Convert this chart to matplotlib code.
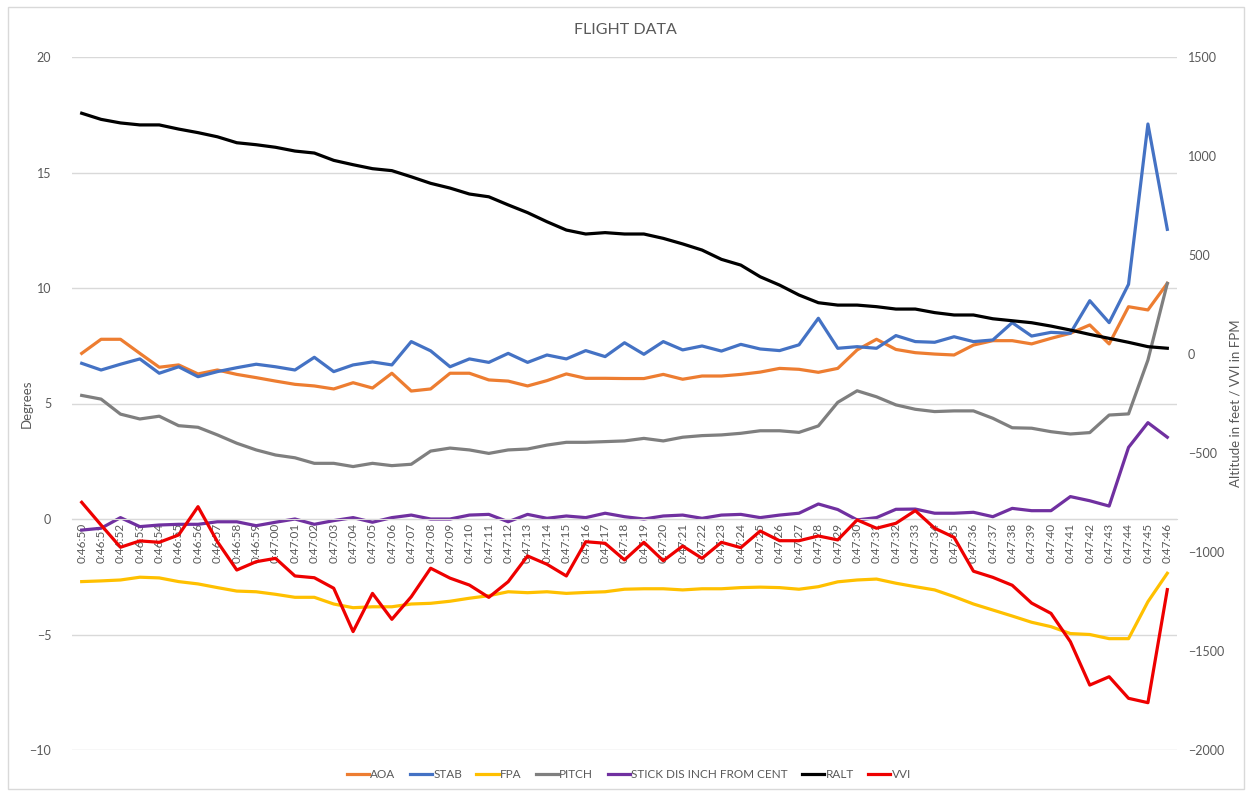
import matplotlib
matplotlib.use('Agg')
from matplotlib import pyplot as plt
from matplotlib.patches import Rectangle

plt.rcParams['font.family'] = ['Lato', 'DejaVu Sans']

times = ['0:46:50', '0:46:51', '0:46:52', '0:46:53', '0:46:54', '0:46:55', '0:46:56', '0:46:57',
         '0:46:58', '0:46:59', '0:47:00', '0:47:01', '0:47:02', '0:47:03', '0:47:04', '0:47:05',
         '0:47:06', '0:47:07', '0:47:08', '0:47:09', '0:47:10', '0:47:11', '0:47:12', '0:47:13',
         '0:47:14', '0:47:15', '0:47:16', '0:47:17', '0:47:18', '0:47:19', '0:47:20', '0:47:21',
         '0:47:22', '0:47:23', '0:47:24', '0:47:25', '0:47:26', '0:47:27', '0:47:28', '0:47:29',
         '0:47:30', '0:47:31', '0:47:32', '0:47:33', '0:47:34', '0:47:35', '0:47:36', '0:47:37',
         '0:47:38', '0:47:39', '0:47:40', '0:47:41', '0:47:42', '0:47:43', '0:47:44', '0:47:45',
         '0:47:46']

# degrees (left axis)
aoa = [7.17, 7.78, 7.78, 7.17, 6.57, 6.67, 6.28, 6.45, 6.26, 6.12,
       5.97, 5.83, 5.76, 5.63, 5.90, 5.67, 6.31, 5.54, 5.63, 6.31,
       6.31, 6.02, 5.97, 5.76, 5.99, 6.28, 6.09, 6.09, 6.08, 6.08,
       6.26, 6.05, 6.19, 6.19, 6.26, 6.36, 6.52, 6.48, 6.35, 6.52,
       7.32, 7.78, 7.34, 7.20, 7.14, 7.10, 7.53, 7.72, 7.72, 7.58,
       7.82, 8.04, 8.40, 7.58, 9.19, 9.05, 10.20]
stab = [6.74, 6.45, 6.70, 6.93, 6.31, 6.59, 6.16, 6.38, 6.55, 6.70,
        6.59, 6.45, 7.00, 6.38, 6.67, 6.80, 6.67, 7.68, 7.28, 6.59,
        6.93, 6.78, 7.17, 6.78, 7.10, 6.93, 7.29, 7.03, 7.63, 7.13,
        7.68, 7.32, 7.49, 7.27, 7.56, 7.36, 7.29, 7.54, 8.69, 7.39,
        7.46, 7.39, 7.94, 7.68, 7.65, 7.89, 7.68, 7.75, 8.50, 7.92,
        8.08, 8.04, 9.45, 8.50, 10.16, 17.10, 12.54]
fpa = [-2.71, -2.68, -2.64, -2.52, -2.55, -2.71, -2.81, -2.97, -3.12, -3.15,
       -3.26, -3.39, -3.39, -3.68, -3.84, -3.80, -3.80, -3.68, -3.65, -3.56,
       -3.43, -3.32, -3.15, -3.19, -3.15, -3.22, -3.18, -3.15, -3.04, -3.02,
       -3.02, -3.07, -3.02, -3.02, -2.97, -2.95, -2.97, -3.04, -2.93, -2.72,
       -2.64, -2.60, -2.78, -2.93, -3.07, -3.36, -3.68, -3.94, -4.20, -4.47,
       -4.66, -4.96, -5.00, -5.18, -5.18, -3.58, -2.35]
pitch = [5.35, 5.19, 4.54, 4.33, 4.45, 4.04, 3.97, 3.64, 3.28, 2.99,
         2.77, 2.65, 2.41, 2.41, 2.27, 2.41, 2.31, 2.37, 2.94, 3.07,
         2.99, 2.84, 2.99, 3.03, 3.20, 3.32, 3.32, 3.35, 3.38, 3.49,
         3.38, 3.54, 3.61, 3.64, 3.71, 3.82, 3.82, 3.75, 4.03, 5.05,
         5.55, 5.29, 4.94, 4.75, 4.65, 4.68, 4.68, 4.36, 3.95, 3.93,
         3.78, 3.68, 3.74, 4.50, 4.55, 6.88, 10.20]
stick = [-0.48, -0.40, 0.06, -0.33, -0.26, -0.23, -0.23, -0.12, -0.12, -0.29,
         -0.14, 0.00, -0.23, -0.07, 0.06, -0.14, 0.06, 0.17, 0.00, 0.00,
         0.17, 0.20, -0.12, 0.20, 0.03, 0.13, 0.06, 0.25, 0.10, 0.00,
         0.13, 0.17, 0.03, 0.17, 0.20, 0.06, 0.17, 0.25, 0.65, 0.41,
         -0.04, 0.06, 0.42, 0.43, 0.25, 0.25, 0.29, 0.10, 0.46, 0.36,
         0.36, 0.97, 0.79, 0.56, 3.10, 4.17, 3.54]

# feet / fpm (right axis)
ralt = [1216, 1185, 1167, 1157, 1157, 1136, 1118, 1097, 1067, 1057,
        1044, 1025, 1015, 978, 956, 936, 926, 895, 862, 838,
        808, 794, 753, 714, 668, 626, 606, 613, 606, 606,
        584, 556, 525, 478, 449, 390, 348, 298, 259, 247,
        247, 239, 227, 227, 209, 197, 197, 178, 168, 158,
        141, 121, 99, 79, 59, 37, 29]
vvi = [-749, -864, -976, -944, -951, -914, -771, -948, -1091, -1049,
       -1032, -1121, -1130, -1183, -1402, -1209, -1340, -1226, -1082, -1132,
       -1167, -1229, -1150, -1020, -1062, -1121, -948, -956, -1040, -951,
       -1044, -970, -1032, -951, -978, -894, -943, -943, -919, -939,
       -838, -880, -855, -791, -880, -926, -1097, -1128, -1168, -1258,
       -1310, -1453, -1672, -1630, -1739, -1761, -1190]

W, H = 1250, 793
fig = plt.figure(figsize=(W / 100, H / 100), dpi=100)
fig.patches.append(Rectangle((8 / W, 4 / H), 1236 / W, 782 / H, transform=fig.transFigure,
                             fill=False, edgecolor='#d9d9d9', linewidth=1))

ax = fig.add_axes([72 / W, 1 - 750 / H, 1105 / W, 693 / H])
ax2 = ax.twinx()

x = list(range(len(times)))
grey_txt = '#595959'
lw = 2.3

l1, = ax.plot(x, aoa, color='#ED7D31', lw=lw, label='AOA')
l2, = ax.plot(x, stab, color='#4472C4', lw=lw, label='STAB')
l3, = ax.plot(x, fpa, color='#FFC000', lw=lw, label='FPA')
l4, = ax.plot(x, pitch, color='#7F7F7F', lw=lw, label='PITCH')
l5, = ax.plot(x, stick, color='#7030A0', lw=lw, label='STICK DIS INCH FROM CENT')
l6, = ax2.plot(x, ralt, color='#000000', lw=lw, label='RALT')
l7, = ax2.plot(x, vvi, color='#EE0000', lw=lw, label='VVI')

ax.set_xlim(-0.5, len(times) - 0.5)
ax.set_ylim(-10, 20)
ax.set_yticks([-10, -5, 0, 5, 10, 15, 20])
ax2.set_ylim(-2000, 1500)
ax2.set_yticks([-2000, -1500, -1000, -500, 0, 500, 1000, 1500])

ax.yaxis.grid(True, color='#d9d9d9', linewidth=1)
ax.set_axisbelow(True)
for a in (ax, ax2):
    for s in ('top', 'left', 'right'):
        a.spines[s].set_visible(False)
ax2.spines['bottom'].set_visible(False)
ax.spines['bottom'].set_position(('data', 0))
ax.spines['bottom'].set_color('#d9d9d9')

ax.set_xticks(x)
ax.set_xticklabels(times, rotation=90, fontsize=8.5, color=grey_txt)
ax.tick_params(axis='x', length=0, pad=3)
ax.tick_params(axis='y', length=0, pad=15, labelsize=9, labelcolor=grey_txt)
ax2.tick_params(axis='y', length=0, pad=8, labelsize=9, labelcolor=grey_txt)

ax.set_ylabel('Degrees', fontsize=9.5, color=grey_txt)
ax.yaxis.set_label_coords((33 - 72) / 1105, 0.5)
ax2.set_ylabel('Altitude in feet / VVI in FPM', fontsize=9.5, color=grey_txt)
ax2.yaxis.set_label_coords((1230 - 72) / 1105, 0.5)

fig.text(0.5, 1 - 30 / H, 'FLIGHT DATA', ha='center', va='center', fontsize=11.5, color=grey_txt)

fig.legend(handles=[l1, l2, l3, l4, l5, l6, l7], loc='center', bbox_to_anchor=(0.503, 1 - 775 / H),
           ncol=7, frameon=False, fontsize=8.5, handlelength=1.9, handletextpad=0.1,
           columnspacing=1.2, labelcolor=grey_txt)

fig.savefig('out.png', dpi=100)
